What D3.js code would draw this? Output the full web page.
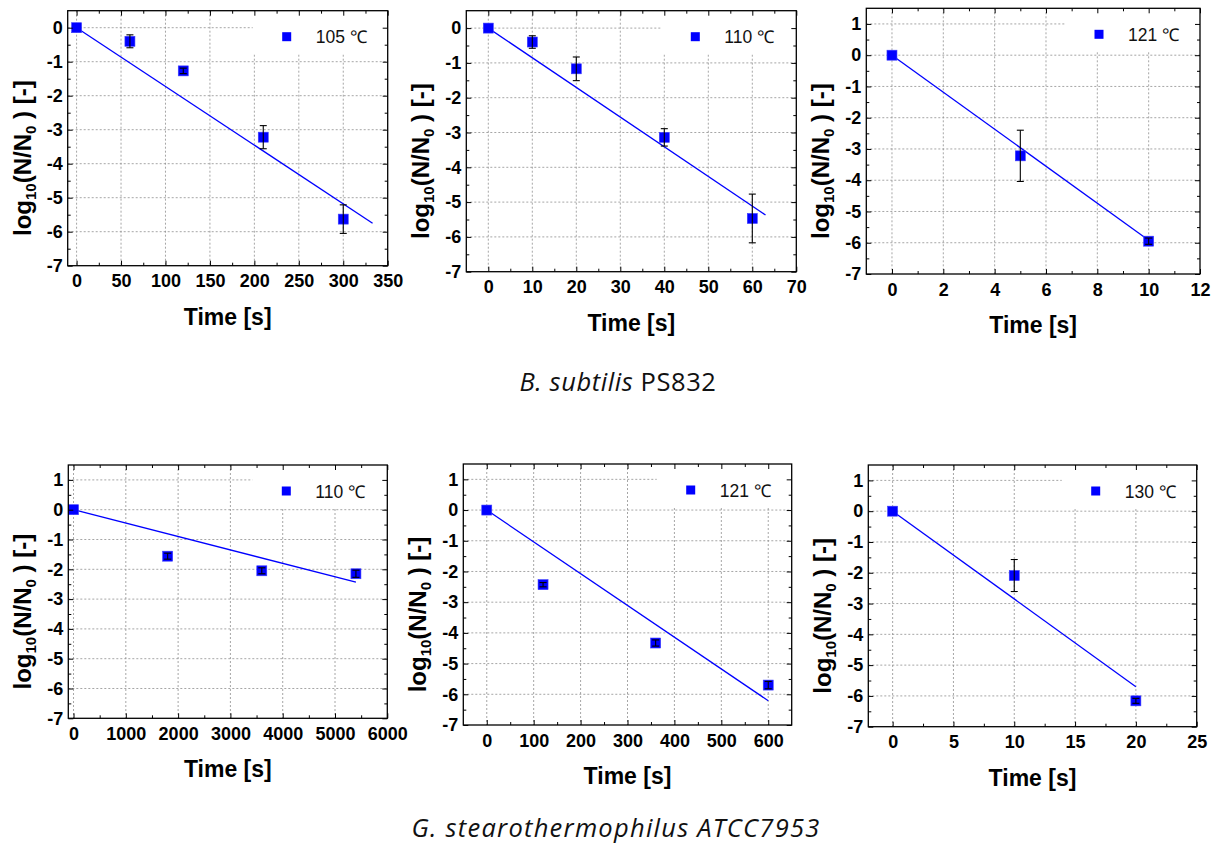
<!DOCTYPE html>
<html><head><meta charset="utf-8">
<script src="https://cdn.jsdelivr.net/npm/d3@7"></script>
<style>body{margin:0;background:#fff}svg{display:block}</style>
</head><body>
<svg id="c" width="1218" height="845"></svg>
<script>
// ---------------- DATA ----------------
// B. subtilis PS832
const bs105Time = [0, 60, 120, 210, 300];
const bs105Log  = [0, -0.40, -1.27, -3.22, -5.63];
const bs105Err  = [0, 0.19, 0.08, 0.34, 0.42];
const bs105FitT = [0, 333];
const bs105FitY = [0, -5.75];

const bs110Time = [0, 10, 20, 40, 60];
const bs110Log  = [0, -0.40, -1.17, -3.14, -5.47];
const bs110Err  = [0, 0.18, 0.34, 0.25, 0.70];
const bs110FitT = [0, 63];
const bs110FitY = [0, -5.37];

const bs121Time = [0, 5, 10];
const bs121Log  = [0, -3.22, -5.95];
const bs121Err  = [0, 0.82, 0.10];
const bs121FitT = [0, 10];
const bs121FitY = [0, -5.92];

// G. stearothermophilus ATCC7953
const gs110Time = [0, 1800, 3600, 5400];
const gs110Log  = [0, -1.56, -2.05, -2.15];
const gs110Err  = [0, 0.10, 0.10, 0.12];
const gs110FitT = [0, 5400];
const gs110FitY = [0, -2.43];

const gs121Time = [0, 120, 360, 600];
const gs121Log  = [0, -2.43, -4.33, -5.70];
const gs121Err  = [0, 0.07, 0.10, 0.12];
const gs121FitT = [0, 600];
const gs121FitY = [0, -6.21];

const gs130Time = [0, 10, 20];
const gs130Log  = [0, -2.09, -6.16];
const gs130Err  = [0, 0.52, 0.08];
const gs130FitT = [0, 20];
const gs130FitY = [0, -5.70];

// tick labels
const xTicksBs105 = [0, 50, 100, 150, 200, 250, 300, 350];
const xTicksBs110 = [0, 10, 20, 30, 40, 50, 60, 70];
const xTicksBs121 = [0, 2, 4, 6, 8, 10, 12];
const xTicksGs110 = [0, 1000, 2000, 3000, 4000, 5000, 6000];
const xTicksGs121 = [0, 100, 200, 300, 400, 500, 600];
const xTicksGs130 = [0, 5, 10, 15, 20, 25];
const yTicksA = [0, -1, -2, -3, -4, -5, -6, -7];
const yTicksB = [1, 0, -1, -2, -3, -4, -5, -6, -7];

const legendLabels = ["105 ℃", "110 ℃", "121 ℃", "110 ℃", "121 ℃", "130 ℃"];
const captionTop = ["B. subtilis", " PS832"];
const captionBottom = "G. stearothermophilus ATCC7953";

// ---------------- LAYOUT ----------------
const panels = [
  {box:[67.7,10.7,387.7,265.7], xd:[-10,350], yd:[-7,0.5], xt:xTicksBs105, yt:yTicksA, t:bs105Time, v:bs105Log, e:bs105Err, ft:bs105FitT, fy:bs105FitY, lab:legendLabels[0]},
  {box:[466.3,10.7,796.3,271.7], xd:[-5,70], yd:[-7,0.5], xt:xTicksBs110, yt:yTicksA, t:bs110Time, v:bs110Log, e:bs110Err, ft:bs110FitT, fy:bs110FitY, lab:legendLabels[1]},
  {box:[866.3,8.3,1200,274], xd:[-1,12], yd:[-7,1.5], xt:xTicksBs121, yt:yTicksB, t:bs121Time, v:bs121Log, e:bs121Err, ft:bs121FitT, fy:bs121FitY, lab:legendLabels[2]},
  {box:[68.3,465,387.3,718.3], xd:[-100,6000], yd:[-7,1.5], xt:xTicksGs110, yt:yTicksB, t:gs110Time, v:gs110Log, e:gs110Err, ft:gs110FitT, fy:gs110FitY, lab:legendLabels[3]},
  {box:[463.3,464,791.7,725], xd:[-50,650], yd:[-7,1.5], xt:xTicksGs121, yt:yTicksB, t:gs121Time, v:gs121Log, e:gs121Err, ft:gs121FitT, fy:gs121FitY, lab:legendLabels[4]},
  {box:[868.3,465,1196.7,726.7], xd:[-2,25], yd:[-7,1.5], xt:xTicksGs130, yt:yTicksB, t:gs130Time, v:gs130Log, e:gs130Err, ft:gs130FitT, fy:gs130FitY, lab:legendLabels[5]}
];

const svg = d3.select("#c");
const FONT = '"Liberation Sans", Arial, Helvetica, sans-serif';
const BLUE = "#0000ff";

function midpoints(a){ const m=[]; for(let i=0;i<a.length-1;i++) m.push((a[i]+a[i+1])/2); return m; }

panels.forEach(p => {
  const [L,T,R,B] = p.box;
  const x = d3.scaleLinear().domain(p.xd).range([L,R]);
  const y = d3.scaleLinear().domain(p.yd).range([B,T]);
  const g = svg.append("g");

  // grid
  const grid = g.append("g").attr("stroke","#8f8f8f").attr("stroke-width",0.8).attr("stroke-dasharray","2,2");
  p.xt.filter(d => x(d) > L+1 && x(d) < R-1).forEach(d => {
    grid.append("line").attr("x1",x(d)).attr("x2",x(d)).attr("y1",T).attr("y2",B);
  });
  p.yt.filter(d => y(d) > T+1 && y(d) < B-1).forEach(d => {
    grid.append("line").attr("x1",L).attr("x2",R).attr("y1",y(d)).attr("y2",y(d));
  });

  // legend background
  g.append("rect").attr("x",R-135).attr("y",T+0.5).attr("width",135).attr("height",43).attr("fill","#fff");

  // fit line
  const fit = p.ft.map((d,i)=>[d,p.fy[i]]);
  g.append("path").datum(fit)
    .attr("d", d3.line().x(d=>x(d[0])).y(d=>y(d[1])))
    .attr("fill","none").attr("stroke",BLUE).attr("stroke-width",1.3);

  // points
  const pts = p.t.map((d,i)=>({t:d, v:p.v[i], e:p.e[i]}));
  pts.forEach(d => {
    g.append("rect").attr("x",x(d.t)-5).attr("y",y(d.v)-5).attr("width",10).attr("height",10)
      .attr("fill",BLUE).attr("stroke","#3d3dff").attr("stroke-width",0.6);
  });
  // error bars
  const eb = g.append("g").attr("stroke","#000").attr("stroke-width",1.1);
  pts.filter(d=>d.e>0).forEach(d => {
    const cx = x(d.t), y1 = y(d.v+d.e), y2 = y(d.v-d.e);
    eb.append("line").attr("x1",cx).attr("x2",cx).attr("y1",y1).attr("y2",y2);
    eb.append("line").attr("x1",cx-3.5).attr("x2",cx+3.5).attr("y1",y1).attr("y2",y1);
    eb.append("line").attr("x1",cx-3.5).attr("x2",cx+3.5).attr("y1",y2).attr("y2",y2);
  });

  // legend
  const ly = T + 26, lx = R - 101;
  g.append("rect").attr("x",lx-4.5).attr("y",ly-4.5).attr("width",9).attr("height",9).attr("fill",BLUE);
  g.append("text").attr("x",lx+29).attr("y",ly+6.5).attr("font-family",FONT).attr("font-size",17.5)
    .attr("fill","#111").text(p.lab);

  // axes
  const fmt = d => String(d);
  const xMinor = midpoints(p.xt).filter(d => d>p.xd[0] && d<p.xd[1]);
  const yMinor = midpoints(p.yt).filter(d => d>p.yd[0] && d<p.yd[1]);

  const styleAxis = sel => {
    sel.attr("font-family",null).attr("font-size",null);
    sel.select(".domain").remove();
    sel.selectAll("line").attr("stroke","#000").attr("stroke-width",1);
    sel.selectAll("text").attr("font-family",FONT).attr("font-weight","bold").attr("font-size",18).attr("fill","#000");
  };
  g.append("g").attr("transform",`translate(0,${B})`)
    .call(d3.axisBottom(x).tickValues(p.xt).tickSize(-5).tickPadding(9).tickFormat(fmt)).call(styleAxis);
  g.append("g").attr("transform",`translate(0,${B})`)
    .call(d3.axisBottom(x).tickValues(xMinor).tickSize(-3).tickFormat("")).call(styleAxis);
  g.append("g").attr("transform",`translate(0,${T})`)
    .call(d3.axisTop(x).tickValues(p.xt).tickSize(-5).tickFormat("")).call(styleAxis);
  g.append("g").attr("transform",`translate(0,${T})`)
    .call(d3.axisTop(x).tickValues(xMinor).tickSize(-3).tickFormat("")).call(styleAxis);
  g.append("g").attr("transform",`translate(${L},0)`)
    .call(d3.axisLeft(y).tickValues(p.yt).tickSize(-5).tickPadding(5).tickFormat(fmt)).call(styleAxis);
  g.append("g").attr("transform",`translate(${L},0)`)
    .call(d3.axisLeft(y).tickValues(yMinor).tickSize(-3).tickFormat("")).call(styleAxis);
  g.append("g").attr("transform",`translate(${R},0)`)
    .call(d3.axisRight(y).tickValues(p.yt).tickSize(-5).tickFormat("")).call(styleAxis);
  g.append("g").attr("transform",`translate(${R},0)`)
    .call(d3.axisRight(y).tickValues(yMinor).tickSize(-3).tickFormat("")).call(styleAxis);

  // frame
  g.append("rect").attr("x",L).attr("y",T).attr("width",R-L).attr("height",B-T)
    .attr("fill","none").attr("stroke","#000").attr("stroke-width",1.3);

  // axis titles
  g.append("text").attr("x",(L+R)/2).attr("y",B+59).attr("text-anchor","middle")
    .attr("font-family",FONT).attr("font-weight","bold").attr("font-size",23).text("Time [s]");
  const yt = g.append("text").attr("transform",`translate(${L-37},${(T+B)/2+20}) rotate(-90)`)
    .attr("text-anchor","middle").attr("font-family",FONT).attr("font-weight","bold").attr("font-size",24);
  yt.append("tspan").text("log");
  yt.append("tspan").attr("font-size",15).attr("dy",5).text("10");
  yt.append("tspan").attr("dy",-5).text("(N/N");
  yt.append("tspan").attr("font-size",15).attr("dy",5).text("0");
  yt.append("tspan").attr("dy",-5).text(" ) [-]");
});

// captions
const CAP = '"Open Sans", "Noto Sans", sans-serif';
function fitSpacing(textSel, target, nChars){
  const w = textSel.node().getComputedTextLength();
  textSel.attr("letter-spacing", Math.max(0, (target - w) / nChars).toFixed(2));
}
const c1 = svg.append("text").attr("x",618).attr("y",391).attr("text-anchor","middle")
  .attr("font-family",CAP).attr("font-size",25.5).attr("fill","#111");
c1.append("tspan").attr("font-style","italic").text(captionTop[0]);
c1.append("tspan").text(captionTop[1]);
fitSpacing(c1, 197, captionTop.join("").length);
const c2 = svg.append("text").attr("x",616).attr("y",837).attr("text-anchor","middle")
  .attr("font-family",CAP).attr("font-size",25.5).attr("font-style","italic").attr("fill","#111")
  .text(captionBottom);
fitSpacing(c2, 409, captionBottom.length);
</script>
</body></html>
